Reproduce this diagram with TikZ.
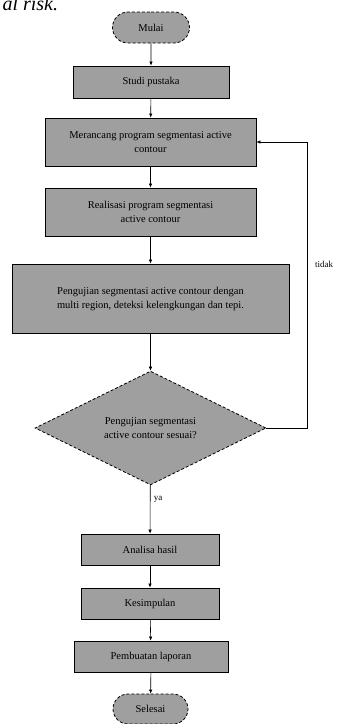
\documentclass[tikz,border=0pt]{standalone}
\usepackage{fontspec}
\setmainfont{Liberation Serif}
\usetikzlibrary{shapes.geometric,shapes.misc,arrows.meta}
\begin{document}
\begin{tikzpicture}[x=1pt,y=-1pt,
	box/.style={draw,fill=gray!75,line width=0.8pt,align=center,inner sep=0pt,font=\fontsize{10.5}{14}\selectfont},
	ujung/.style={box,rounded rectangle,densely dashed},
	putusan/.style={box,diamond,densely dashed},
	panah/.style={-{Latex[length=4pt,width=3.5pt]},line width=0.6pt}]
	\useasboundingbox (0,0) rectangle (339,724);
	\node[anchor=base west,font=\itshape\fontsize{20}{20}\selectfont] (risk) at (-1,10) {al risk.};
	\node[ujung,minimum width=77,minimum height=31] (mulai) at (151,27.5) {Mulai};
	\node[box,minimum width=156,minimum height=32] (studi) at (151,82) {Studi pustaka};
	\node[box,minimum width=211,minimum height=48] (rancang) at (150.5,142) {Merancang program segmentasi active\\contour};
	\node[box,minimum width=211,minimum height=48] (realisasi) at (150.5,212) {Realisasi program segmentasi\\active contour};
	\node[box,minimum width=277,minimum height=69] (uji) at (150.5,298.5) {Pengujian segmentasi active contour dengan\\multi region, deteksi kelengkungan dan tepi.};
	\node[putusan,minimum width=231,minimum height=112] (sesuai) at (150.5,428) {Pengujian segmentasi\\active contour sesuai?};
	\node[box,minimum width=138,minimum height=31] (analisa) at (150,549.5) {Analisa hasil};
	\node[box,minimum width=138,minimum height=31] (simpul) at (150,603.5) {Kesimpulan};
	\node[box,minimum width=154,minimum height=31] (laporan) at (151,656.5) {Pembuatan laporan};
	\node[ujung,minimum width=75,minimum height=30] (selesai) at (150.5,709) {Selesai};
	\draw[panah] (mulai)--(studi);
	\draw[panah] (studi)--(rancang);
	\draw[panah] (rancang)--(realisasi);
	\draw[panah] (realisasi)--(uji);
	\draw[panah] (uji)--(sesuai);
	\draw[panah] (sesuai)--(analisa)node[pos=0.3,right,font=\fontsize{9}{9}\selectfont](ya){ya};
	\draw[panah] (analisa)--(simpul);
	\draw[panah] (simpul)--(laporan);
	\draw[panah] (laporan)--(selesai);
	\coordinate (belok) at (307,428);
	\draw[panah] (sesuai.east)--(belok)|-(rancang.east);
	\node[font=\fontsize{9}{9}\selectfont] (tidak) at (324,264) {tidak};
\end{tikzpicture}
\end{document}
